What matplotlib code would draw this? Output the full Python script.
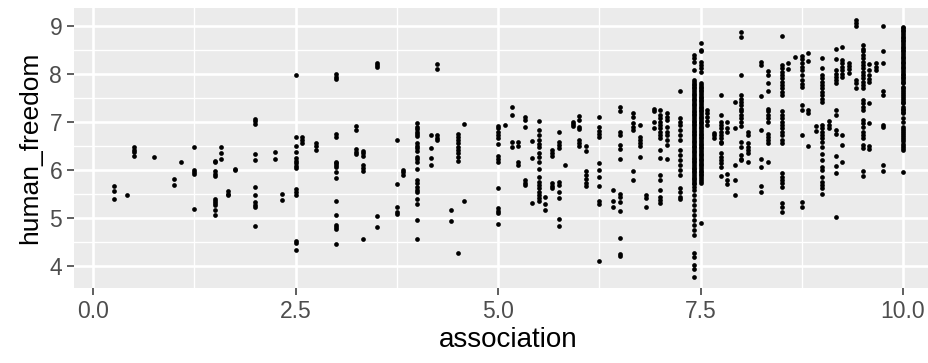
import numpy as np
import matplotlib
matplotlib.use("Agg")
from matplotlib import pyplot as plt

# association score levels and the human_freedom values read at each level
assoc_levels = [0.25, 0.42, 0.5, 0.75, 1.0, 1.08, 1.25, 1.5, 1.58, 1.67, 1.75, 2.0, 2.25,
                2.33, 2.5, 2.58, 2.75, 3.0, 3.25, 3.33, 3.5, 3.75, 3.83, 4.0, 4.17, 4.25,
                4.42, 4.5, 4.58, 5.0, 5.08, 5.17, 5.25, 5.33, 5.42, 5.5, 5.58, 5.67, 5.75,
                5.83, 5.92, 6.0, 6.08, 6.25, 6.42, 6.5, 6.67, 6.75, 6.83, 6.92, 7.0, 7.08,
                7.25, 7.42, 7.5, 7.58, 7.67, 7.75, 7.83, 7.92, 8.0, 8.08, 8.25, 8.33, 8.5,
                8.58, 8.67, 8.75, 8.83, 8.92, 9.0, 9.08, 9.17, 9.25, 9.33, 9.42, 9.5, 9.58,
                9.67, 9.75, 10.0]

freedom_by_level = [
    [5.67, 5.56, 5.40],
    [5.47],
    [6.47, 6.42, 6.38, 6.29],
    [6.28],
    [5.81, 5.69],
    [6.16],
    [6.47, 6.00, 5.95, 5.92, 5.19],
    [6.19, 6.16, 5.97, 5.91, 5.88, 5.40, 5.36, 5.32, 5.28, 5.17, 5.06],
    [6.47, 6.36, 6.23],
    [5.56, 5.51, 5.47],
    [6.03, 6.00],
    [7.07, 7.02, 6.96, 6.33, 6.20, 5.65, 5.49, 5.33, 5.28, 5.22, 4.83],
    [6.38, 6.24],
    [5.50, 5.37],
    [7.97, 6.69, 6.51, 6.38, 6.25, 6.19, 6.14, 6.08, 6.05, 5.61, 5.55, 5.47, 4.53, 4.47, 4.33],
    [6.69, 6.63, 6.56],
    [6.57, 6.50, 6.42],
    [8.01, 7.94, 7.89, 6.76, 6.68, 6.17, 6.14, 6.10, 6.06, 5.96, 5.84, 5.36, 5.06, 4.85,
     4.81, 4.77, 4.45],
    [6.92, 6.83, 6.44, 6.38, 6.33],
    [6.40, 6.35, 6.29, 6.10, 6.05, 5.99, 4.57],
    [8.24, 8.18, 8.15, 5.05, 4.81],
    [6.62, 5.70, 5.22, 5.13, 5.08],
    [6.01, 5.96, 5.90],
    [6.97, 6.90, 6.85, 6.80, 6.76, 6.71, 6.57, 6.51, 6.46, 6.40, 6.28, 6.22, 6.17, 6.03,
     5.79, 5.74, 5.65, 5.58, 5.55, 5.40, 5.29, 4.95, 4.57],
    [6.74, 6.45, 6.26, 6.10],
    [8.21, 8.10, 6.72, 6.67, 6.62],
    [5.16, 4.93],
    [6.76, 6.69, 6.62, 6.56, 6.49, 6.42, 6.35, 6.28, 6.18, 4.27],
    [6.96, 5.35],
    [6.92, 6.87, 6.80, 6.73, 6.66, 6.55, 6.30, 6.23, 6.16, 5.63, 5.20, 5.15, 5.10, 4.88],
    [6.94],
    [7.32, 7.15, 6.58, 6.47],
    [6.58, 6.51, 6.16, 6.10],
    [7.11, 7.04, 6.89, 5.79, 5.74, 5.68],
    [6.60, 6.26, 5.31],
    [7.03, 6.83, 6.73, 6.63, 6.54, 6.47, 6.35, 6.28, 6.17, 6.03, 5.86, 5.76, 5.69, 5.62,
     5.55, 5.48, 5.41, 5.35],
    [5.43, 5.29, 5.17],
    [6.42, 6.35, 6.29, 5.72, 5.67, 5.62],
    [6.80, 6.59, 6.52, 6.45, 5.76, 5.69, 5.55, 5.42, 4.98, 4.84],
    [6.10],
    [7.00, 6.96, 6.92],
    [7.13, 7.04, 6.89, 6.85, 6.63, 6.57, 6.51],
    [6.51, 6.40, 5.97, 5.90, 5.81, 5.74, 5.67],
    [7.11, 6.90, 6.81, 6.75, 6.69, 6.14, 6.00, 5.86, 5.67, 5.36, 5.29, 4.11],
    [5.58, 5.36, 5.22],
    [7.32, 7.24, 6.80, 6.73, 6.53, 6.43, 6.22, 5.50, 5.44, 5.33, 5.15, 4.58, 4.26, 4.21],
    [7.18, 7.10, 6.99, 6.90, 6.83, 5.97, 5.79],
    [6.94, 6.69, 6.62, 6.56, 6.50, 6.28],
    [5.49, 5.41, 5.22],
    [7.28, 7.22, 7.01, 6.87],
    [7.25, 7.15, 7.08, 7.01, 6.94, 6.87, 6.80, 6.73, 6.66, 6.42, 6.26, 5.90, 5.79, 5.58,
     5.44, 5.38, 5.32],
    [7.18, 7.11, 7.04, 6.90, 6.80, 6.73, 6.63, 6.52, 6.24],
    [7.65, 7.08, 7.01, 6.94, 6.83, 6.73, 6.63, 6.42, 6.31, 6.21, 6.10, 6.00, 5.90, 5.62,
     5.55, 5.44, 5.40],
    [8.40, 8.33, 8.26, 8.08, 7.87, 7.84, 7.80, 7.77, 7.73, 7.70, 7.66, 7.63, 7.59, 7.56,
     7.52, 7.49, 7.45, 7.42, 7.38, 7.35, 7.31, 7.28, 7.24, 7.21, 7.17, 7.14, 7.10, 7.07,
     7.03, 7.00, 6.96, 6.93, 6.89, 6.86, 6.82, 6.79, 6.75, 6.72, 6.68, 6.65, 6.61, 6.58,
     6.54, 6.51, 6.47, 6.44, 6.40, 6.37, 6.33, 6.30, 6.26, 6.23, 6.19, 6.16, 6.12, 6.09,
     6.05, 6.02, 5.98, 5.95, 5.91, 5.88, 5.84, 5.81, 5.77, 5.74, 5.70, 5.65, 5.59, 5.48,
     5.38, 5.27, 5.17, 5.06, 4.96, 4.85, 4.75, 4.65, 4.27, 4.19, 4.02, 3.94, 3.77],
    [8.64, 8.50, 8.47, 8.26, 8.19, 8.12, 8.05, 7.81, 7.78, 7.74, 7.71, 7.67, 7.64, 7.60,
     7.57, 7.53, 7.50, 7.46, 7.43, 7.39, 7.36, 7.32, 7.29, 7.25, 7.22, 7.18, 7.15, 7.11,
     7.08, 7.04, 7.01, 6.97, 6.94, 6.90, 6.87, 6.83, 6.80, 6.76, 6.73, 6.69, 6.66, 6.62,
     6.59, 6.55, 6.52, 6.48, 6.45, 6.41, 6.38, 6.34, 6.31, 6.27, 6.24, 6.20, 6.17, 6.13,
     6.10, 6.06, 6.03, 5.99, 5.96, 5.92, 5.89, 5.85, 5.82, 5.78, 5.73, 4.90],
    [7.25, 7.18, 7.11, 7.03, 6.94],
    [6.78, 6.73, 6.66],
    [7.56, 7.15, 7.01, 6.94, 6.87, 6.80, 6.73, 6.66, 6.59, 6.56, 6.35, 6.28, 6.21, 6.14,
     6.07, 5.88],
    [7.01, 6.87, 6.80, 5.91, 5.79, 5.70],
    [7.41, 6.88, 6.10, 5.79, 5.48],
    [8.88, 8.78, 7.98, 7.56, 7.49, 7.42, 7.35, 7.28, 7.22, 7.15, 7.08, 7.01, 6.92, 6.59,
     6.49, 6.31, 6.24, 6.21],
    [6.80, 6.73, 6.56, 6.49, 6.42, 6.35, 6.17],
    [8.26, 8.19, 7.55, 6.83, 6.24, 6.07, 5.67, 5.55],
    [8.07, 7.98, 7.81, 7.65, 7.28, 7.22, 7.15, 7.08, 7.01, 6.76, 6.69, 6.62, 6.56, 6.16],
    [8.79, 8.19, 8.12, 8.05, 7.98, 7.91, 7.84, 7.77, 7.70, 7.63, 7.56, 7.22, 7.15, 7.08,
     7.01, 6.94, 6.87, 6.80, 6.73, 6.63, 6.56, 5.93, 5.86, 5.79, 5.72, 5.65, 5.32, 5.24,
     5.13],
    [8.24, 8.10],
    [8.35],
    [8.38, 8.31, 8.22, 8.15, 8.08, 7.98, 7.88, 7.79, 7.72, 7.35, 7.25, 6.73, 5.34, 5.24],
    [8.44, 8.27, 7.25, 7.18, 6.51],
    [6.92, 6.82],
    [8.34, 8.12, 7.98, 7.91, 7.84, 7.77, 7.70, 7.63, 7.56, 7.49, 7.42, 6.94, 6.87, 6.80,
     6.73, 6.66, 6.59, 6.49, 6.33, 6.21, 6.07, 6.00, 5.86, 5.76, 5.69, 5.62, 5.51],
    [7.03, 6.94, 6.87],
    [8.53, 8.32, 8.08, 8.01, 7.94, 7.88, 7.81, 7.25, 7.15, 6.83, 6.76, 6.30, 6.08, 5.94,
     5.02],
    [8.57, 8.29, 8.22, 8.15, 8.08, 8.01, 7.94, 6.73, 6.52, 6.17],
    [8.24, 8.17, 8.10, 8.03],
    [9.12, 9.06, 9.00, 7.88, 7.81, 7.70],
    [8.60, 8.53, 8.47, 8.40, 8.33, 8.26, 8.19, 8.12, 8.05, 7.98, 7.91, 7.84, 7.77, 7.70,
     7.46, 7.39, 7.32, 7.25, 7.04, 6.97, 6.90, 6.80, 6.73, 6.66, 6.52, 6.45, 5.97, 5.88],
    [8.21, 8.08, 7.98, 7.90, 7.83, 7.39, 6.97, 6.50, 6.43],
    [8.24, 8.15, 8.08],
    [9.00, 8.47, 8.22, 7.65, 7.56, 6.94, 6.89, 6.10, 5.97],
    [8.99, 8.96, 8.92, 8.89, 8.85, 8.82, 8.78, 8.75, 8.71, 8.68, 8.64, 8.61, 8.57, 8.54,
     8.50, 8.47, 8.43, 8.40, 8.36, 8.33, 8.29, 8.26, 8.22, 8.19, 8.15, 8.12, 8.08, 8.05,
     8.01, 7.98, 7.94, 7.91, 7.87, 7.84, 7.81, 7.74, 7.70, 7.66, 7.62, 7.58, 7.54, 7.50,
     7.46, 7.42, 7.39, 7.32, 7.28, 7.25, 7.21, 7.18, 7.08, 7.01, 6.90, 6.86, 6.82, 6.77,
     6.73, 6.68, 6.64, 6.60, 6.55, 6.51, 6.46, 6.42, 5.96],
]

x_ticks = [0.0, 2.5, 5.0, 7.5, 10.0]
x_tick_labels = ["0.0", "2.5", "5.0", "7.5", "10.0"]
y_ticks = [4, 5, 6, 7, 8, 9]

xs = []
ys = []
for lvl, vals in zip(assoc_levels, freedom_by_level):
    for v in vals:
        xs.append(lvl)
        ys.append(v)

plt.rcParams['font.family'] = ['Liberation Sans', 'DejaVu Sans']

fig = plt.figure(figsize=(9.29, 3.63), dpi=100)
ax = fig.add_axes([0.0797, 0.2066, 0.9348, 0.7713])
ax.set_facecolor("#EBEBEB")

ax.plot(xs, ys, "o", color="black", markersize=3.4, markeredgewidth=0)

ax.set_xlim(-0.2375, 10.4875)
ax.set_ylim(3.542, 9.375)
ax.set_xticks(x_ticks)
ax.set_xticklabels(x_tick_labels)
ax.set_yticks(y_ticks)
ax.set_xticks([1.25, 3.75, 6.25, 8.75], minor=True)
ax.set_yticks([4.5, 5.5, 6.5, 7.5, 8.5], minor=True)

ax.grid(which="major", color="white", linewidth=1.9)
ax.grid(which="minor", color="white", linewidth=0.95)
ax.set_axisbelow(True)
for s in ax.spines.values():
    s.set_visible(False)

ax.tick_params(which="major", length=5, width=1.1, color="#333333",
               labelcolor="#4D4D4D", labelsize=16.5, pad=3.5)
ax.tick_params(which="minor", length=0)

ax.set_xlabel("association", fontsize=20, color="black", labelpad=3)
ax.set_ylabel("human_freedom", fontsize=19, color="black", labelpad=5)

fig.savefig("out.png", dpi=100)
